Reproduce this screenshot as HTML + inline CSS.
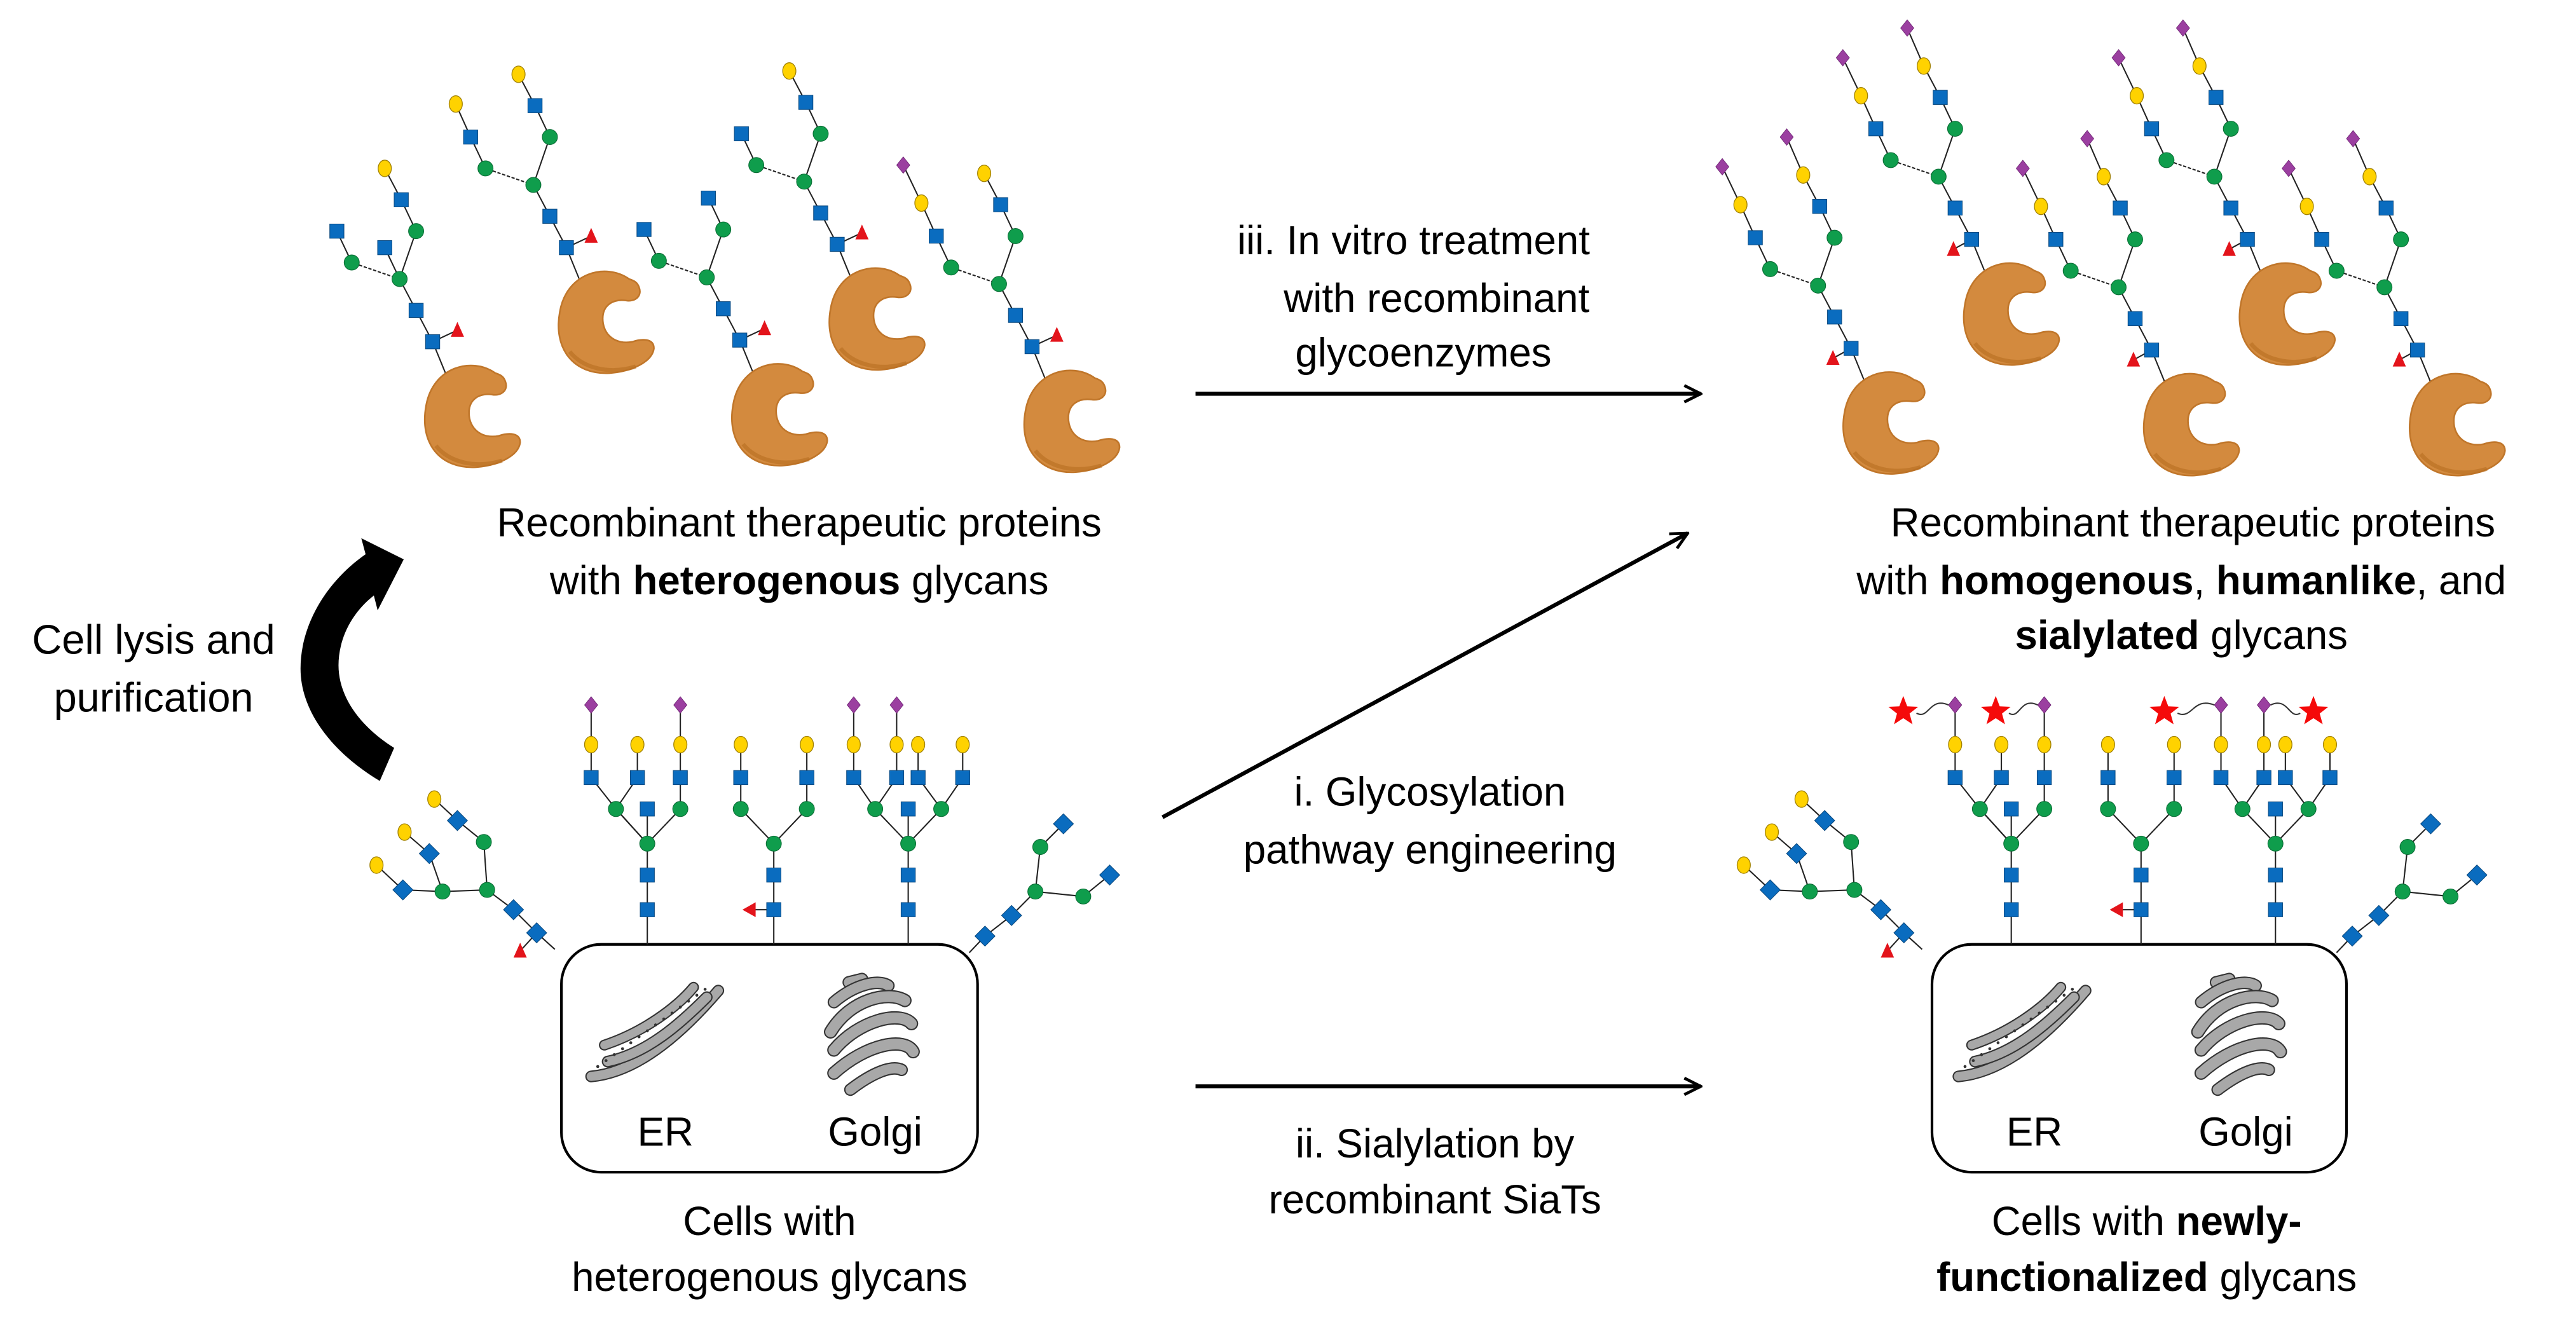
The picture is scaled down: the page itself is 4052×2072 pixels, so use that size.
<!DOCTYPE html>
<html><head><meta charset="utf-8">
<style>
html,body{margin:0;padding:0;background:#fff;}
svg{display:block;}
text{font-family:"Liberation Sans",Arial,sans-serif;fill:#000;}
</style></head>
<body>
<svg id="s" xmlns="http://www.w3.org/2000/svg" width="4052" height="2072" viewBox="0 0 1560 797.7" preserveAspectRatio="none">
<defs>
<marker id="ah" viewBox="0 0 12 12" refX="11" refY="6" markerWidth="12" markerHeight="12" markerUnits="userSpaceOnUse" orient="auto">
<path d="M1,1 L11,6 L1,11" fill="none" stroke="#000" stroke-width="1.8"/>
</marker>
<g id="prot">
<path d="M44,8 C30,-2 6,4 2,28 C-2,50 10,66 32,65 C46,64 58,58 59,50 C59,44 52,44 46,46 C36,48 28,42 28,32 C28,24 34,20 42,21 C48,22 52,18 50,13 C49,10 47,9 44,8 Z" fill="#d38a3e" stroke="#c0762a" stroke-width="1"/>
<path d="M8,52 C16,62 32,66 48,61" fill="none" stroke="#b86e22" stroke-width="2.5" opacity="0.6"/>
</g>
</defs>

<text x="484" y="325" font-size="24.5" text-anchor="middle">Recombinant therapeutic proteins</text>
<text x="484" y="360" font-size="24.5" text-anchor="middle">with <tspan font-weight="bold">heterogenous</tspan> glycans</text>
<text x="93" y="396" font-size="25" text-anchor="middle">Cell lysis and</text>
<text x="93" y="431" font-size="25" text-anchor="middle">purification</text>
<text x="856" y="154" font-size="24.5" text-anchor="middle">iii. In vitro treatment</text>
<text x="870" y="189" font-size="24.5" text-anchor="middle">with recombinant</text>
<text x="862" y="222" font-size="24.5" text-anchor="middle">glycoenzymes</text>
<text x="1328" y="325" font-size="24.5" text-anchor="middle">Recombinant therapeutic proteins</text>
<text x="1321" y="360" font-size="24.5" text-anchor="middle">with <tspan font-weight="bold">homogenous</tspan>, <tspan font-weight="bold">humanlike</tspan>, and</text>
<text x="1321" y="393" font-size="24.5" text-anchor="middle"><tspan font-weight="bold">sialylated</tspan> glycans</text>
<text x="866" y="488" font-size="24.5" text-anchor="middle">i. Glycosylation</text>
<text x="866" y="523" font-size="24.5" text-anchor="middle">pathway engineering</text>
<text x="869" y="701" font-size="24.5" text-anchor="middle">ii. Sialylation by</text>
<text x="869" y="735" font-size="24.5" text-anchor="middle">recombinant SiaTs</text>
<text x="466" y="748" font-size="24.5" text-anchor="middle">Cells with</text>
<text x="466" y="782" font-size="24.5" text-anchor="middle">heterogenous glycans</text>
<text x="1300" y="748" font-size="24.5" text-anchor="middle">Cells with <tspan font-weight="bold">newly-</tspan></text>
<text x="1300" y="782" font-size="24.5" text-anchor="middle"><tspan font-weight="bold">functionalized</tspan> glycans</text>

<line x1="724" y1="238.5" x2="1030" y2="238.5" stroke="#000" stroke-width="2.4" marker-end="url(#ah)"/>
<line x1="704" y1="495" x2="1022" y2="323" stroke="#000" stroke-width="2.4" marker-end="url(#ah)"/>
<line x1="724" y1="658" x2="1030" y2="658" stroke="#000" stroke-width="2.4" marker-end="url(#ah)"/>
<path d="M230,473 C200,455 182,430 182,405 C182,378 198,352 221.4,335.7 L218.8,326 L244.5,338.8 L228.7,369.7 L226.4,360.7 C212,372 205,388 205,403 C205,422 218,440 238.7,453 Z" fill="#000"/>

<rect x="340" y="572" width="252" height="138" rx="24" fill="#fff" stroke="#000" stroke-width="1.6"/>
<rect x="1170" y="572" width="251" height="138" rx="24" fill="#fff" stroke="#000" stroke-width="1.6"/>
<text x="403" y="694" font-size="24.5" text-anchor="middle">ER</text>
<text x="530" y="694" font-size="24.5" text-anchor="middle">Golgi</text>
<text x="1232" y="694" font-size="24.5" text-anchor="middle">ER</text>
<text x="1360" y="694" font-size="24.5" text-anchor="middle">Golgi</text>
<g id="g"></g>
</svg>
<script>
var g=document.getElementById('g'),NS='http://www.w3.org/2000/svg';
function el(t,a){var e=document.createElementNS(NS,t);for(var k in a)e.setAttribute(k,a[k]);g.appendChild(e);return e;}
function ln(a,b,dash){el('line',{x1:a[0],y1:a[1],x2:b[0],y2:b[1],stroke:'#222','stroke-width':0.8,'stroke-dasharray':dash?'2,1':'none'});}
function nd(t,x,y){
 if(t=='sq')el('rect',{x:x-4.3,y:y-4.3,width:8.6,height:8.6,fill:'#0a6cbf',stroke:'#0b4a80','stroke-width':0.4});
 else if(t=='dq')el('rect',{x:x-4.3,y:y-4.3,width:8.6,height:8.6,fill:'#0a6cbf',stroke:'#0b4a80','stroke-width':0.4,transform:'rotate(45 '+x+' '+y+')'});
 else if(t=='ci')el('circle',{cx:x,cy:y,r:4.6,fill:'#0f9d4c',stroke:'#0a6b34','stroke-width':0.4});
 else if(t=='ga')el('ellipse',{cx:x,cy:y,rx:4,ry:5,fill:'#ffd200',stroke:'#a08000','stroke-width':0.5});
 else if(t=='fu')el('polygon',{points:(x-4)+','+(y+4)+' '+(x+4)+','+(y+4)+' '+x+','+(y-5),fill:'#e3141b'});
 else if(t=='fl')el('polygon',{points:(x-5)+','+(y)+' '+(x+3)+','+(y-4.5)+' '+(x+3)+','+(y+4.5),fill:'#e3141b'});
 else if(t=='si')el('polygon',{points:x+','+(y-5)+' '+(x+4)+','+y+' '+x+','+(y+5)+' '+(x-4)+','+y,fill:'#9b3fa0',stroke:'#6a2070','stroke-width':0.3});
 else if(t=='st'){var p=[];for(var i=0;i<10;i++){var r=i%2?4:9.5,a=-Math.PI/2+i*Math.PI/5;p.push((x+r*Math.cos(a)).toFixed(1)+','+(y+r*Math.sin(a)).toFixed(1));}el('polygon',{points:p.join(' '),fill:'#f50a0a'});}
}
var T={sq1:[-6,-14],fuc:[9,-21],sq2:[-16,-33],core:[-26,-52],lci:[-55,-62],rci:[-16,-81],lsq:[-64,-81],lga:[-73,-101],lsia:[-84,-124],rsq:[-25,-100],rga:[-35,-119],rsia:[-45,-142],bis:[-35,-71]};
function pg(S,o,fucLeft){
 function P(k){var v=T[k];if(k=='fuc'&&fucLeft)v=[-17,-8];return [S[0]+v[0],S[1]+v[1]];}
 var E=[['sq1','sq2'],['sq2','core'],['core','rci']];
 ln([S[0]+3,S[1]+8],P('sq1'));ln(P('sq1'),P('fuc'));
 E.forEach(function(e){ln(P(e[0]),P(e[1]));});
 ln(P('core'),P('lci'),true);
 if(o.bis)ln(P('core'),P('bis'));
 if(o.lsq)ln(P('lci'),P('lsq'));if(o.lga)ln(P('lsq'),P('lga'));if(o.lsia)ln(P('lga'),P('lsia'));
 if(o.rsq)ln(P('rci'),P('rsq'));if(o.rga)ln(P('rsq'),P('rga'));if(o.rsia)ln(P('rga'),P('rsia'));
 nd('sq',...P('sq1'));nd('fu',...P('fuc'));nd('sq',...P('sq2'));nd('ci',...P('core'));nd('ci',...P('lci'));nd('ci',...P('rci'));
 if(o.bis)nd('sq',...P('bis'));
 if(o.lsq)nd('sq',...P('lsq'));if(o.lga)nd('ga',...P('lga'));if(o.lsia)nd('si',...P('lsia'));
 if(o.rsq)nd('sq',...P('rsq'));if(o.rga)nd('ga',...P('rga'));if(o.rsia)nd('si',...P('rsia'));
}
function prot(S){var u=document.createElementNS(NS,'use');u.setAttribute('href','#prot');u.setAttribute('x',S[0]-12);u.setAttribute('y',S[1]-3);g.appendChild(u);}
var L=[[[268,221],{bis:1,lsq:1,rsq:1,rga:1}],[[349,164],{lsq:1,lga:1,rsq:1,rga:1}],[[454,220],{lsq:1,rsq:1}],[[513,162],{lsq:1,rsq:1,rga:1}],[[631,224],{lsq:1,lga:1,lsia:1,rsq:1,rga:1}]];
[1,3,0,2,4].forEach(function(i){pg(L[i][0],L[i][1],false);prot(L[i][0]);});
var full={lsq:1,lga:1,lsia:1,rsq:1,rga:1,rsia:1};
var R=[[1200,159],[1367,159],[1127,225],[1309,226],[1470,226]];
R.forEach(function(S){pg(S,full,true);prot(S);});

function cell(dx,stars){
 function X(v){return v+dx;}
 var a=392+(dx?-2:0);
 ln([X(a),572],[X(a),490]);
 [[-19,490,-34,471],[-19,490,-6,471],[20,490,20,471]].forEach(function(q){ln([X(a),511],[X(a+q[0]),q[1]]);ln([X(a+q[0]),q[1]],[X(a+q[2]),q[3]]);ln([X(a+q[2]),q[3]],[X(a+q[2]),451]);});
 ln([X(a-34),451],[X(a-34),427]);ln([X(a+20),451],[X(a+20),427]);
 nd('sq',X(a),551);nd('sq',X(a),530);nd('ci',X(a),511);nd('sq',X(a),490);
 nd('ci',X(a-19),490);nd('ci',X(a+20),490);
 [-34,-6,20].forEach(function(o){nd('sq',X(a+o),471);nd('ga',X(a+o),451);});
 nd('si',X(a-34),427);nd('si',X(a+20),427);
 var b=468.6;
 ln([X(b),572],[X(b),511]);ln([X(b),551],[X(b-14),551]);
 [-20,20].forEach(function(o){ln([X(b),511],[X(b+o),490]);ln([X(b+o),490],[X(b+o),451]);});
 nd('sq',X(b),551);nd('fl',X(b-14),551);nd('sq',X(b),530);nd('ci',X(b),511);
 [-20,20].forEach(function(o){nd('ci',X(b+o),490);nd('sq',X(b+o),471);nd('ga',X(b+o),451);});
 var c=550;
 ln([X(c),572],[X(c),490]);
 [[-20,-33,-7],[20,6,33]].forEach(function(q){ln([X(c),511],[X(c+q[0]),490]);[q[1],q[2]].forEach(function(o){ln([X(c+q[0]),490],[X(c+o),471]);ln([X(c+o),471],[X(c+o),451]);});});
 ln([X(c-33),451],[X(c-33),427]);ln([X(c-7),451],[X(c-7),427]);
 nd('sq',X(c),551);nd('sq',X(c),530);nd('ci',X(c),511);nd('sq',X(c),490);
 nd('ci',X(c-20),490);nd('ci',X(c+20),490);
 [-33,-7,6,33].forEach(function(o){nd('sq',X(c+o),471);nd('ga',X(c+o),451);});
 nd('si',X(c-33),427);nd('si',X(c-7),427);
 var LP={s:[336,575],q1:[325,565],f:[315,576],q2:[311,551],c1:[295,539],c2:[293,510],q3:[277,497],g3:[263,484],c3:[268,540],q4:[260,517],g4:[245,504],q5:[244,539],g5:[228,524]};
 function Q(k){return [LP[k][0]+dx,LP[k][1]];}
 [['s','q1'],['q1','f'],['q1','q2'],['q2','c1'],['c1','c2'],['c2','q3'],['q3','g3'],['c1','c3'],['c3','q4'],['q4','g4'],['c3','q5'],['q5','g5']].forEach(function(e){ln(Q(e[0]),Q(e[1]));});
 nd('dq',...Q('q1'));nd('fu',...Q('f'));nd('dq',...Q('q2'));nd('ci',...Q('c1'));nd('ci',...Q('c2'));nd('dq',...Q('q3'));nd('ga',...Q('g3'));nd('ci',...Q('c3'));nd('dq',...Q('q4'));nd('ga',...Q('g4'));nd('dq',...Q('q5'));nd('ga',...Q('g5'));
 var RP={s:[587,577],q1:[596.5,567],q2:[612.6,554.5],c1:[627,540],c2:[630,513],q3:[644,499],c3:[656,543],q4:[672,530]};
 function W(k){return [RP[k][0]+dx,RP[k][1]];}
 [['s','q1'],['q1','q2'],['q2','c1'],['c1','c2'],['c2','q3'],['c1','c3'],['c3','q4']].forEach(function(e){ln(W(e[0]),W(e[1]));});
 nd('dq',...W('q1'));nd('dq',...W('q2'));nd('ci',...W('c1'));nd('ci',...W('c2'));nd('dq',...W('q3'));nd('ci',...W('c3'));nd('dq',...W('q4'));
 if(stars){
  [[X(a-34),1152.6],[X(a+20),1208.6],[X(c-33),1310.7],[X(c-7),1401]].forEach(function(p){
   var x1=p[0],x2=p[1],d=(x2>x1?-1:1);
   var m=(x1+x2)/2;
   el('path',{d:'M'+(x1+d*(-4))+',427 C'+(m)+',422 '+(m)+',436 '+(x2+(x2<x1?8:-8))+',432',fill:'none',stroke:'#333','stroke-width':0.8});
   nd('st',x2,431);nd('si',x1,427);
  });
 }
}
cell(0,false);cell(828,true);

function org(dx){
 function pth(d,w){el('path',{d:d,fill:'none',stroke:'#333','stroke-width':w+1.6,'stroke-linecap':'round',transform:'translate('+dx+',0)'});el('path',{d:d,fill:'none',stroke:'#a8a8a8','stroke-width':w,'stroke-linecap':'round',transform:'translate('+dx+',0)'});}
 pth('M358,652 C380,650 405,635 435,600',5.5);
 pth('M368,643 C392,638 412,620 428,604',5.5);
 pth('M366,633 C390,625 410,610 420,598',5);
 for(var i=0;i<14;i++){var x=362+i*5,y=650-i*3.6;el('circle',{cx:x+dx,cy:y-4,r:0.9,fill:'#333'});}
 pth('M514,595 L522,593',6);
 pth('M505,607 C518,596 532,593 538,597',6);
 pth('M503,625 C515,605 538,600 548,606',6.5);
 pth('M505,636 C520,618 545,612 552,620',6.5);
 pth('M505,650 C525,632 548,628 553,637',6.5);
 pth('M515,660 C528,650 540,645 546,648',6);
}
org(0);org(828);
</script>
</body></html>
